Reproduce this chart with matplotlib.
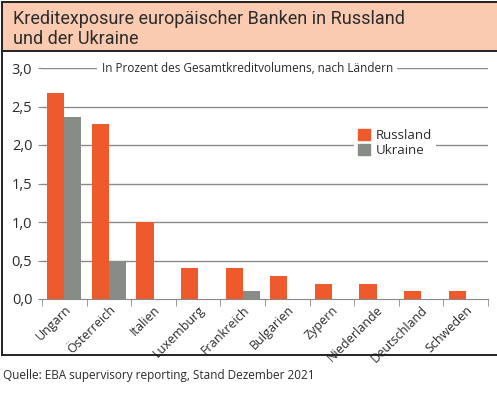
import matplotlib
matplotlib.use("Agg")
import matplotlib.pyplot as plt
from matplotlib.patches import Rectangle, Patch
import numpy as np

categories = ["Ungarn", "Österreich", "Italien", "Luxemburg", "Frankreich",
              "Bulgarien", "Zypern", "Niederlande", "Deutschland", "Schweden"]
russland = [2.67, 2.27, 1.0, 0.4, 0.4, 0.3, 0.2, 0.2, 0.1, 0.1]
ukraine = [2.37, 0.5, 0.0, 0.0, 0.1, 0.0, 0.0, 0.0, 0.0, 0.0]
yticks = [0.0, 0.5, 1.0, 1.5, 2.0, 2.5, 3.0]
ytick_labels = ["0,0", "0,5", "1,0", "1,5", "2,0", "2,5", "3,0"]

plt.rcParams['font.family'] = ['Open Sans', 'DejaVu Sans']

W, H = 497, 398
fig = plt.figure(figsize=(W / 100, H / 100), dpi=100)

ORANGE = "#EE5A2C"
GRAY = "#878C87"
PEACH = "#FACBB0"
TXT = "#2b2b2b"

fig.patches.append(Rectangle((2 / W, 1 - 51 / H), 1, 49 / H, transform=fig.transFigure,
                             facecolor=PEACH, edgecolor="none", zorder=0))
fig.add_artist(plt.Line2D([2 / W, 1], [1 - 2 / H, 1 - 2 / H], color="#222", lw=1.4))
fig.add_artist(plt.Line2D([2 / W, 1], [1 - 51 / H, 1 - 51 / H], color="#222", lw=1.4))
fig.add_artist(plt.Line2D([2 / W, 1], [1 - 355 / H, 1 - 355 / H], color="#222", lw=1.4))
fig.add_artist(plt.Line2D([2 / W, 2 / W], [1 - 355 / H, 1 - 2 / H], color="#222", lw=1.4))

fig.text(13 / W, 1 - 29 / H, "Kreditexposure europäischer Banken in Russland\nund der Ukraine",
         fontsize=13, color=TXT, va="center", ha="left", linespacing=1.2,
         family=["Roboto", 'DejaVu Sans'])

ax = fig.add_axes([42 / W, 1 - 299 / H, (488 - 42) / W, (299 - 68) / H])
x = np.arange(len(categories))
bw = 0.385
ax.bar(x - bw / 2, russland, width=bw, color=ORANGE, label="Russland", zorder=3)
ax.bar(x + bw / 2, ukraine, width=bw, color=GRAY, label="Ukraine", zorder=3)

ax.set_xlim(-0.5, len(categories) - 0.5)
ax.set_ylim(0, 3.0)
ax.set_yticks(yticks)
ax.set_yticklabels(ytick_labels, fontsize=10.5, color=TXT)
for v in yticks[1:]:
    ax.axhline(v, color="#8a8a8a", lw=1.0, zorder=1)
for s in ["top", "right", "left"]:
    ax.spines[s].set_visible(False)
ax.spines["bottom"].set_color("#8a8a8a")
ax.spines["bottom"].set_zorder(4)
ax.tick_params(axis="y", length=3, color="#8a8a8a", pad=4)
ax.tick_params(axis="x", which="major", length=0, pad=3)
ax.set_xticks(x)
ax.set_xticklabels(categories, rotation=45, ha="right", rotation_mode="anchor",
                   fontsize=9, color=TXT)
ax.set_xticks(np.arange(-0.5, len(categories)), minor=True)
ax.tick_params(axis="x", which="minor", length=5, color="#8a8a8a")

ax.text(4.1, 3.0, "In Prozent des Gesamtkreditvolumens, nach Ländern", ha="center",
        va="center", fontsize=8.5, color=TXT, zorder=5,
        bbox=dict(facecolor="white", edgecolor="none", pad=3))

handles = [Patch(color=ORANGE, label="Russland"), Patch(color=GRAY, label="Ukraine")]
leg = ax.legend(handles=handles, loc="upper left", bbox_to_anchor=(0.7, 0.755),
                frameon=True, fontsize=9.5, handlelength=0.9, handleheight=0.9,
                handletextpad=0.4, labelspacing=0.2, borderpad=0.3, borderaxespad=0)
leg.get_frame().set_facecolor("white")
leg.get_frame().set_edgecolor("none")
leg.get_frame().set_alpha(1)
leg.set_zorder(6)
for t in leg.get_texts():
    t.set_color(TXT)

fig.text(3 / W, 1 - 376 / H, "Quelle: EBA supervisory reporting, Stand Dezember 2021",
         fontsize=8.5, color=TXT, va="center", ha="left")

fig.savefig("out.png", dpi=100)
